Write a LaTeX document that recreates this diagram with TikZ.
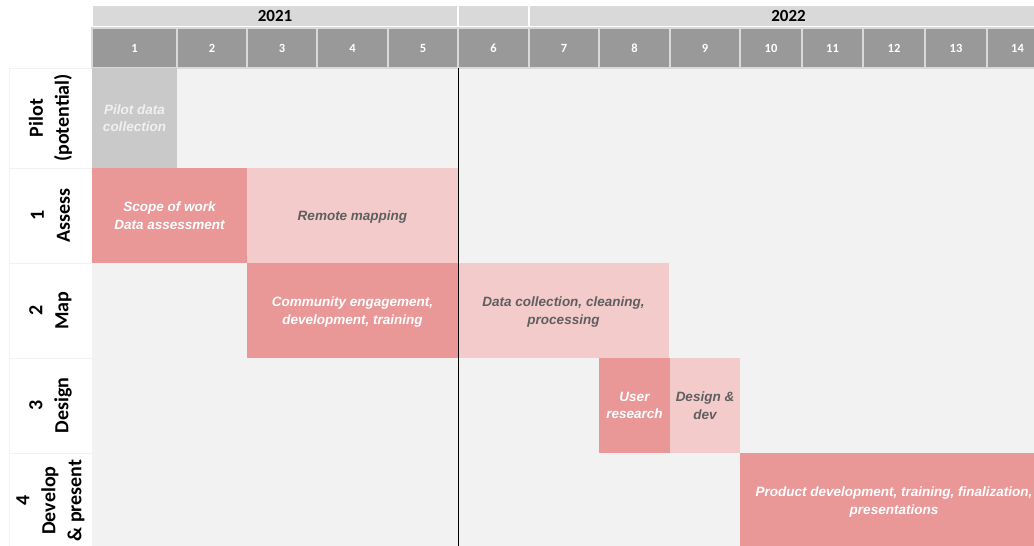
\documentclass[tikz,border=0pt]{standalone}
\usepackage{fontspec}
\setmainfont{Liberation Sans}
\newfontfamily\calibri{Carlito}
\definecolor{darkpink}{HTML}{E99797}
\definecolor{lightpink}{HTML}{F4CBCB}
\definecolor{pilotgray}{HTML}{C9C9C9}
\definecolor{pilottext}{HTML}{F0F0F0}
\definecolor{monthgray}{HTML}{999999}
\definecolor{monthline}{HTML}{D9D9D9}
\definecolor{yeargray}{HTML}{D9D9D9}
\definecolor{bodygray}{HTML}{F2F2F2}
\definecolor{bartext}{HTML}{5F5F5F}
\tikzset{
  cell/.style={inner sep=0pt, outer sep=0pt, anchor=center},
  bartextfont/.style={font=\bfseries\itshape\fontsize{13.5}{17.5}\selectfont, align=center, text depth=0pt},
  darkbar/.style={cell, fill=darkpink, text=white, bartextfont},
  lightbar/.style={cell, fill=lightpink, text=bartext, bartextfont},
  pilotbar/.style={cell, fill=pilotgray, text=pilottext, bartextfont},
  month/.style={cell, fill=monthgray, draw=monthline, line width=1.5pt, text=white,
    font=\calibri\bfseries\fontsize{12.5}{14}\selectfont},
  year/.style={cell, fill=yeargray, draw=white, line width=1.5pt, text=black,
    font=\calibri\bfseries\fontsize{17}{19}\selectfont},
  rowlabel/.style={cell, fill=white, draw=bodygray, line width=1pt, rotate=90, text=black,
    font=\calibri\bfseries\fontsize{20}{26}\selectfont, align=center, minimum height=83},
  divider/.style={draw=black, line width=1pt},
}
\begin{document}
\begin{tikzpicture}[x=1pt,y=-1pt]
\useasboundingbox (0,0) rectangle (1034,546);
\clip (0,0) rectangle (1034,546);
\fill[white] (0,0) rectangle (1034,546);
% body background
\fill[bodygray] (92,68) rectangle (1050,550);
% year header
\node[year, minimum width=366, minimum height=22] (y2021) at (275,16) {2021};
\node[year, minimum width=71, minimum height=22] (yblank) at (493.5,16) {};
\node[year, minimum width=519, minimum height=22] (y2022) at (788.5,16) {2022};
% month header
\foreach \n/\a/\b in {1/92/177,2/177/247,3/247/317,4/317/388,5/388/458,6/458/529,7/529/599,8/599/670,9/670/740,10/740/802,11/802/863,12/863/925,13/925/987,14/987/1048}{
  \node[month, minimum width={\b-\a}, minimum height=40] (m\n) at ({(\a+\b)/2},48) {\n};
}
% row labels
\node[rowlabel, minimum width=100] (lpilot) at (50.5,118) {Pilot\\(potential)};
\node[rowlabel, minimum width=95] (lassess) at (50.5,215.5) {1\\Assess};
\node[rowlabel, minimum width=95] (lmap) at (50.5,310.5) {2\\Map};
\node[rowlabel, minimum width=95] (ldesign) at (50.5,405.5) {3\\Design};
\node[rowlabel, minimum width=95] (ldevelop) at (50.5,500.5) {4\\Develop\\\& present};
% bars
\node[pilotbar, minimum width=85, minimum height=100] (pilot) at (134.5,118) {Pilot data\\collection};
\node[darkbar, minimum width=155, minimum height=95] (scope) at (169.5,215.5) {Scope of work\\Data assessment};
\node[lightbar, minimum width=211, minimum height=95] (remote) at (352.5,215.5) {Remote mapping};
\node[darkbar, minimum width=211, minimum height=95] (community) at (352.5,310.5) {Community engagement,\\development, training};
\node[lightbar, minimum width=211, minimum height=95] (datacoll) at (563.5,310.5) {Data collection, cleaning,\\processing};
\node[darkbar, minimum width=71, minimum height=95] (user) at (634.5,405.5) {User\\research};
\node[lightbar, minimum width=70, minimum height=95] (designdev) at (705,405.5) {Design \&\\dev};
\node[darkbar, minimum width=308, minimum height=95] (product) at (894,500.5) {Product development, training, finalization,\\presentations};
% divider between years
\coordinate (vtop) at (458,68);
\coordinate (vbot) at (458,546);
\draw[divider] (vtop) -- (vbot);
\end{tikzpicture}
\end{document}
